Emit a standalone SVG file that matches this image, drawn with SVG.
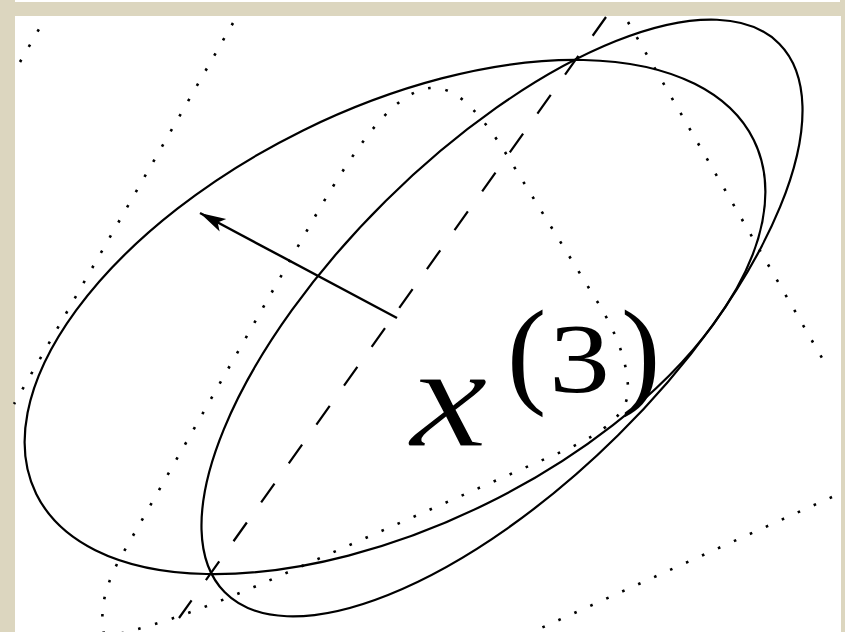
<svg xmlns="http://www.w3.org/2000/svg" width="845" height="632" viewBox="0 0 845 632">
<style>
.solid{fill:none;stroke:#000;stroke-width:2.2}
.dash{fill:none;stroke:#000;stroke-width:2.2;stroke-dasharray:23 24.7}
.dot{fill:none;stroke:#000;stroke-width:2.6;stroke-dasharray:2.6 14.9}
.math{font-family:"Liberation Serif","Times New Roman",serif;fill:#000}
.thin{stroke:#fff;stroke-width:1.2}
</style>
<defs>
<marker id="ah" markerUnits="userSpaceOnUse" markerWidth="30" markerHeight="20" refX="28" refY="10" orient="auto">
<path d="M28,10 L2,3 L8,10 L2,17 Z" fill="#000"/>
</marker>
</defs>
<rect width="845" height="632" fill="#dcd6bf"/>
<rect x="15" y="0" width="825" height="2" fill="#fff"/>
<rect x="15" y="16" width="826" height="616" fill="#fff"/>
<g id="dotted-curves">
<path class="dot" d="M20,62 L42,24"/>
<path class="dot" d="M233,23 L14,404"/>
<path class="dot" d="M628,22 L822,358"/>
<path class="dot" d="M832,497 L530,633"/>
<path class="dot" d="M104,634 C100,612 103,592 118,562 L317,213 C360,140 395,92 430,88 C455,86 475,108 500,144 L600,306 C614,330 628,360 628,390 C628,420 590,440 547,458 L268,581 C220,602 160,625 118,634"/>
</g>
<g id="ellipse-1">
<ellipse class="solid" cx="395" cy="317" rx="400" ry="208" transform="rotate(-26.25 395 317)"/>
</g>
<g id="ellipse-2">
<ellipse class="solid" cx="502" cy="318" rx="390" ry="165" transform="rotate(-44.7 502 318)"/>
</g>
<g id="axis">
<path class="dash" d="M606,17 L179,618"/>
</g>
<g id="connectors">
<path d="M397,318 L200,213" fill="none" stroke="#000" stroke-width="2.4" marker-end="url(#ah)"/>
</g>
<g id="label">
<text class="math thin" font-style="italic" font-size="146" transform="translate(410,446) scale(1.2,1)">x</text>
<text class="math" font-size="118" x="507" y="392">(</text>
<text class="math" font-size="100" transform="translate(549,392) scale(1.22,1)">3</text>
<text class="math" font-size="118" x="621" y="392">)</text>
</g>
</svg>
